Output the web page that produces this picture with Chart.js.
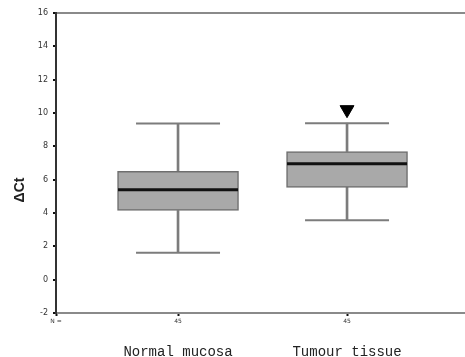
<!DOCTYPE html>
<html>
<head>
<meta charset="utf-8">
<script src="https://cdn.jsdelivr.net/npm/chart.js@4/dist/chart.umd.min.js"></script>
<style>
  html, body { margin: 0; padding: 0; background: #fff; }
  #wrap { width: 465px; height: 357px; }
</style>
</head>
<body>
<div id="wrap"><canvas id="box"></canvas></div>
<script>
'use strict';

// ── Data ───────────────────────────────────────────────────────────────────
const groups   = ['Normal mucosa', 'Tumour tissue'];
const counts   = [45, 45];
const whiskLo  = [1.62, 3.56];
const q1       = [4.15, 5.54];
const medians  = [5.39, 6.95];
const q3       = [6.50, 7.69];
const whiskHi  = [9.37, 9.39];
const outliers = [[], [10.2]];
const yTicks   = [-2, 0, 2, 4, 6, 8, 10, 12, 14, 16];
const yTitle   = 'ΔCt';

// ── Layout helpers ─────────────────────────────────────────────────────────
const X_MIN = 0.278, X_MAX = 2.698;
const pos = groups.map((g, i) => i + 1);

const floating = (lo, hi) => pos.map((x, i) => ({ x, y: [lo[i], hi[i]] }));
const pts = vals => pos.map((x, i) => ({ x, y: vals[i] }));

// y title sits below the axis centre in the original, so draw it ourselves
const yTitlePlugin = {
  id: 'yTitle',
  afterDraw(chart) {
    const ctx = chart.ctx;
    ctx.save();
    ctx.translate(20, 190);
    ctx.rotate(-Math.PI / 2);
    ctx.font = 'bold 14px "Liberation Sans"';
    ctx.fillStyle = '#222';
    ctx.textAlign = 'center';
    ctx.textBaseline = 'middle';
    ctx.fillText(yTitle, 0, 0);
    ctx.restore();
  }
};

const ctx = document.getElementById('box').getContext('2d');

new Chart(ctx, {
  type: 'bar',
  data: {
    datasets: [
      {
        label: 'box',
        data: floating(q1, q3),
        backgroundColor: '#a9a9a9',
        borderColor: '#6e6e6e',
        borderWidth: 1.5,
        borderSkipped: false,
        barThickness: 121,
        grouped: false,
        order: 3,
      },
      {
        label: 'upper stem',
        data: floating(q3, whiskHi),
        backgroundColor: '#7c7c7c',
        borderWidth: 0,
        barThickness: 2,
        grouped: false,
        order: 4,
      },
      {
        label: 'lower stem',
        data: floating(whiskLo, q1),
        backgroundColor: '#7c7c7c',
        borderWidth: 0,
        barThickness: 2,
        grouped: false,
        order: 4,
      },
      {
        type: 'line',
        label: 'caps',
        data: pts(whiskHi).concat(pts(whiskLo)),
        showLine: false,
        pointStyle: 'line',
        pointRadius: 42,
        borderColor: '#7c7c7c',
        borderWidth: 2,
        order: 2,
      },
      {
        type: 'line',
        label: 'median',
        data: pts(medians),
        showLine: false,
        pointStyle: 'line',
        pointRadius: 60,
        borderColor: '#111',
        borderWidth: 3,
        order: 1,
      },
      {
        type: 'line',
        label: 'outliers',
        data: outliers.flatMap((arr, i) => arr.map(v => ({ x: pos[i], y: v }))),
        showLine: false,
        pointStyle: 'triangle',
        rotation: 180,
        pointRadius: 8,
        backgroundColor: '#000',
        borderColor: '#000',
        borderWidth: 1,
        order: 0,
      },
    ],
  },
  options: {
    responsive: true,
    maintainAspectRatio: false,
    animation: false,
    events: [],
    layout: { autoPadding: false, padding: { top: 13, right: 0, left: 0, bottom: 0 } },
    plugins: {
      legend: { display: false },
      tooltip: { enabled: false },
    },
    scales: {
      x: {
        type: 'linear',
        position: 'bottom',
        weight: 0,
        offset: false,
        min: X_MIN,
        max: X_MAX,
        afterBuildTicks: s => { s.ticks = [{ value: X_MIN }].concat(pos.map(v => ({ value: v }))); },
        afterFit: s => { s.height = 16; s.paddingLeft = 0; s.paddingRight = 0; },
        grid: { offset: false, drawOnChartArea: false, drawTicks: true, tickLength: 3, tickColor: '#111', tickWidth: 2 },
        border: { display: true, color: '#8a8a8a', width: 2 },
        ticks: {
          autoSkip: false,
          maxRotation: 0,
          padding: 2,
          color: '#333',
          font: { family: 'DejaVu Sans', size: 6 },
          callback: v => {
            if (Math.abs(v - X_MIN) < 1e-6) return 'N =';
            return String(counts[pos.indexOf(v)]);
          },
        },
      },
      x2: {
        type: 'linear',
        position: 'bottom',
        weight: 1,
        offset: false,
        min: X_MIN,
        max: X_MAX,
        afterBuildTicks: s => { s.ticks = pos.map(v => ({ value: v })); },
        afterFit: s => { s.height = 28; s.paddingLeft = 0; s.paddingRight = 0; },
        grid: { display: false, drawTicks: false, offset: false },
        border: { display: false },
        ticks: {
          autoSkip: false,
          maxRotation: 0,
          padding: 15,
          color: '#222',
          font: { family: 'Liberation Mono', size: 14 },
          callback: v => groups[pos.indexOf(v)],
        },
      },
      y: {
        min: -2,
        max: 16,
        afterBuildTicks: s => { s.ticks = yTicks.map(v => ({ value: v })); },
        afterFit: s => { s.width = 56; s.paddingTop = 0; s.paddingBottom = 0; },
        grid: {
          drawOnChartArea: true,
          color: c => (c.tick && c.tick.value === 16 ? '#8a8a8a' : 'rgba(0,0,0,0)'),
          lineWidth: 2,
          tickLength: 3,
          tickColor: '#111',
          tickWidth: 2,
        },
        border: { display: true, color: '#333', width: 2 },
        ticks: {
          padding: 5,
          color: '#333',
          font: { family: 'DejaVu Sans', size: 8 },
        },
      },
    },
  },
  plugins: [yTitlePlugin],
});
</script>
</body>
</html>
